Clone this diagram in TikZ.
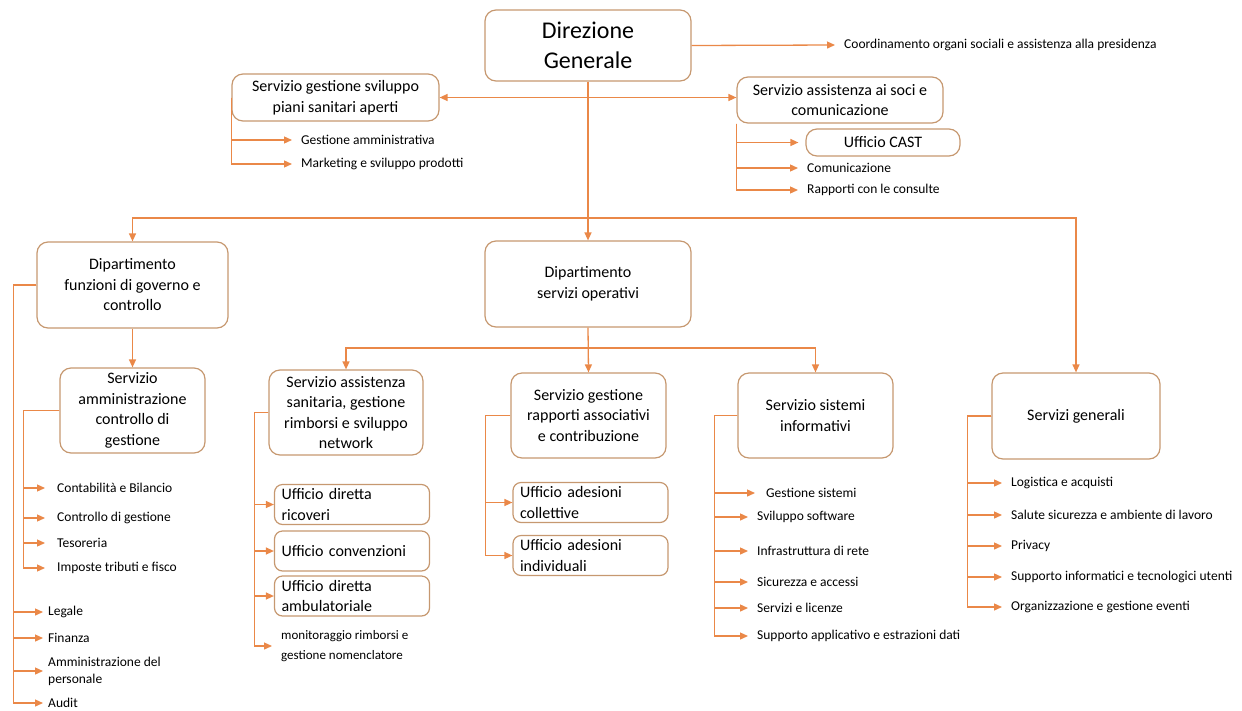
\documentclass[tikz,border=0pt]{standalone}
\usepackage{fontspec}
\setmainfont{Carlito}
\usetikzlibrary{arrows.meta}
\usetikzlibrary{positioning}
\definecolor{boxline}{RGB}{198,152,112}
\definecolor{linkline}{RGB}{234,136,72}

\begin{document}
\begin{tikzpicture}[x=1pt,y=-1pt,
  box/.style={draw=boxline,line width=1.2pt,rounded corners=11pt,align=center,inner sep=0pt,font=\fontsize{16}{20.5}\selectfont},
  office/.style={box,rounded corners=8pt,align=left,text width=141pt,inner xsep=7pt,minimum height=40pt},
  leaf/.style={anchor=west,inner xsep=9pt,inner ysep=0pt,align=left,font=\fontsize{13.5}{17}\selectfont},
  leafnear/.style={leaf,inner xsep=5pt},
  link/.style={draw=linkline,line width=1.3pt},
  arr/.style={link,-{Triangle[length=8pt,width=7pt]}},
  arrboth/.style={link,{Triangle[length=8pt,width=7pt]}-{Triangle[length=8pt,width=7pt]}}]
\useasboundingbox (0,0) rectangle (1242,710);

\node[box,minimum width=206pt,minimum height=71pt,font=\fontsize{24}{30}\selectfont] (dg) at (588,45.5) {Direzione\\Generale};
\node[leaf] (coord) at (835,45) {Coordinamento organi sociali e assistenza alla presidenza};
\node[box,minimum width=207pt,minimum height=47pt] (piani) at (335.5,97.5) {Servizio gestione sviluppo\\piani sanitari aperti};
\node[box,minimum width=206pt,minimum height=46pt] (soci) at (840,100) {Servizio assistenza ai soci e\\comunicazione};
\node[box,minimum width=154pt,minimum height=27pt] (cast) at (883,142.5) {Ufficio CAST};
\node[leaf] (gestamm) at (292,140) {Gestione amministrativa};
\node[leaf] (mkt) at (292,164) {Marketing e sviluppo prodotti};
\node[leaf] (comun) at (798,168) {Comunicazione};
\node[leaf] (consulte) at (798,190) {Rapporti con le consulte};

\node[box,minimum width=191pt,minimum height=86pt] (dgov) at (132.5,285) {Dipartimento\\funzioni di governo e\\controllo};
\node[box,minimum width=206pt,minimum height=86pt] (dops) at (588,284) {Dipartimento\\servizi operativi};
\node[box,minimum width=145pt,minimum height=85pt] (amm) at (132.5,410.5) {Servizio\\amministrazione\\controllo di\\gestione};
\node[box,minimum width=154pt,minimum height=85pt] (sanit) at (346,412.5) {Servizio assistenza\\sanitaria, gestione\\rimborsi e sviluppo\\network};
\node[box,minimum width=155pt,minimum height=85pt] (assoc) at (588.5,415.5) {Servizio gestione\\rapporti associativi\\e contribuzione};
\node[box,minimum width=155pt,minimum height=85pt] (sist) at (815.5,415.5) {Servizio sistemi\\informativi};
\node[box,minimum width=168pt,minimum height=86pt] (sgen) at (1076,416) {Servizi generali};

\node[office] (ricoveri) at (352,504.5) {Ufficio diretta\\ricoveri};
\node[office] (convenz) at (352,551) {Ufficio convenzioni};
\node[office] (ambul) at (352,596) {Ufficio diretta\\ambulatoriale};
\node[leaf,font=\fontsize{13}{20}\selectfont] (monit) at (272,646) {monitoraggio rimborsi e\\gestione nomenclatore};
\node[office] (collett) at (590.5,502.5) {Ufficio adesioni\\collettive};
\node[office] (individ) at (590.5,555.5) {Ufficio adesioni\\individuali};

\node[leafnear] (legale) at (43,612) {Legale};
\node[leafnear] (finanza) at (43,638) {Finanza};
\node[leafnear,font=\fontsize{13.5}{17}\selectfont] (personale) at (43,671) {Amministrazione del\\personale};
\node[leafnear] (audit) at (43,703) {Audit};
\node[leaf,inner xsep=12pt] (contab) at (45,488) {Contabilità e Bilancio};
\node[leaf,inner xsep=12pt] (controllo) at (45,518) {Controllo di gestione};
\node[leaf,inner xsep=12pt] (tesor) at (45,543) {Tesoreria};
\node[leaf,inner xsep=12pt] (imposte) at (45,568) {Imposte tributi e fisco};

\node[leaf,inner xsep=11pt] (gsist) at (755,493) {Gestione sistemi};
\node[leaf] (svil) at (748,517) {Sviluppo software};
\node[leaf] (infra) at (748,551) {Infrastruttura di rete};
\node[leaf] (sicur) at (748,582) {Sicurezza e accessi};
\node[leaf] (licenze) at (748,608) {Servizi e licenze};
\node[leaf] (suppapp) at (748,636) {Supporto applicativo e estrazioni dati};

\node[leaf] (logist) at (1002,483) {Logistica e acquisti};
\node[leaf] (salute) at (1002,515) {Salute sicurezza e ambiente di lavoro};
\node[leaf] (privacy) at (1002,546) {Privacy};
\node[leaf] (suppinf) at (1002,577) {Supporto informatici e tecnologici utenti};
\node[leaf] (eventi) at (1002,607) {Organizzazione e gestione eventi};

\coordinate (tbus) at (588,218);
\coordinate (obus) at (588,348);

\draw[arr] (dg.east) -- (coord.west);
\draw[arrboth] (piani.east) -- (piani.east -| soci.west);
\draw[arr] (dg.south) -- (tbus) -| (dgov.north);
\draw[arr] (tbus) -- (dops.north);
\draw[arr] (tbus) -| (sgen.north);
\draw[arr] (piani.west) |- (gestamm.west);
\draw[arr] (piani.west) |- (mkt.west);
\draw[arr,shorten >=7pt] (soci.south west) |- (cast.west);
\draw[arr] (soci.south west) |- (comun.west);
\draw[arr] (soci.south west) |- (consulte.west);

\draw[arr] (dgov.south) -- (amm.north);
\draw[arr] (dops.south) -- (assoc.north);
\draw[arr] (obus) -| (sanit.north);
\draw[arr] (obus) -| (sist.north);

\draw[arr] (dgov.west) -- ++(-23,0) |- (legale.west);
\draw[arr] (dgov.west) -- ++(-23,0) |- (finanza.west);
\draw[arr] (dgov.west) -- ++(-23,0) |- (personale.west);
\draw[arr] (dgov.west) -- ++(-23,0) |- (audit.west);
\draw[arr] (amm.west) -- ++(-36,0) |- (contab.west);
\draw[arr] (amm.west) -- ++(-36,0) |- (controllo.west);
\draw[arr] (amm.west) -- ++(-36,0) |- (tesor.west);
\draw[arr] (amm.west) -- ++(-36,0) |- (imposte.west);

\draw[arr] (sanit.west) -- ++(-14,0) |- (ricoveri.west);
\draw[arr] (sanit.west) -- ++(-14,0) |- (convenz.west);
\draw[arr] (sanit.west) -- ++(-14,0) |- (ambul.west);
\draw[arr] (sanit.west) -- ++(-14,0) |- (monit.west);
\draw[arr] (assoc.west) -- ++(-25,0) |- (collett.west);
\draw[arr] (assoc.west) -- ++(-25,0) |- (individ.west);

\draw[arr] (sist.west) -- ++(-23,0) |- (gsist.west);
\draw[arr] (sist.west) -- ++(-23,0) |- (svil.west);
\draw[arr] (sist.west) -- ++(-23,0) |- (infra.west);
\draw[arr] (sist.west) -- ++(-23,0) |- (sicur.west);
\draw[arr] (sist.west) -- ++(-23,0) |- (licenze.west);
\draw[arr] (sist.west) -- ++(-23,0) |- (suppapp.west);

\draw[arr] (sgen.west) -- ++(-24,0) |- (logist.west);
\draw[arr] (sgen.west) -- ++(-24,0) |- (salute.west);
\draw[arr] (sgen.west) -- ++(-24,0) |- (privacy.west);
\draw[arr] (sgen.west) -- ++(-24,0) |- (suppinf.west);
\draw[arr] (sgen.west) -- ++(-24,0) |- (eventi.west);

\end{tikzpicture}
\end{document}
